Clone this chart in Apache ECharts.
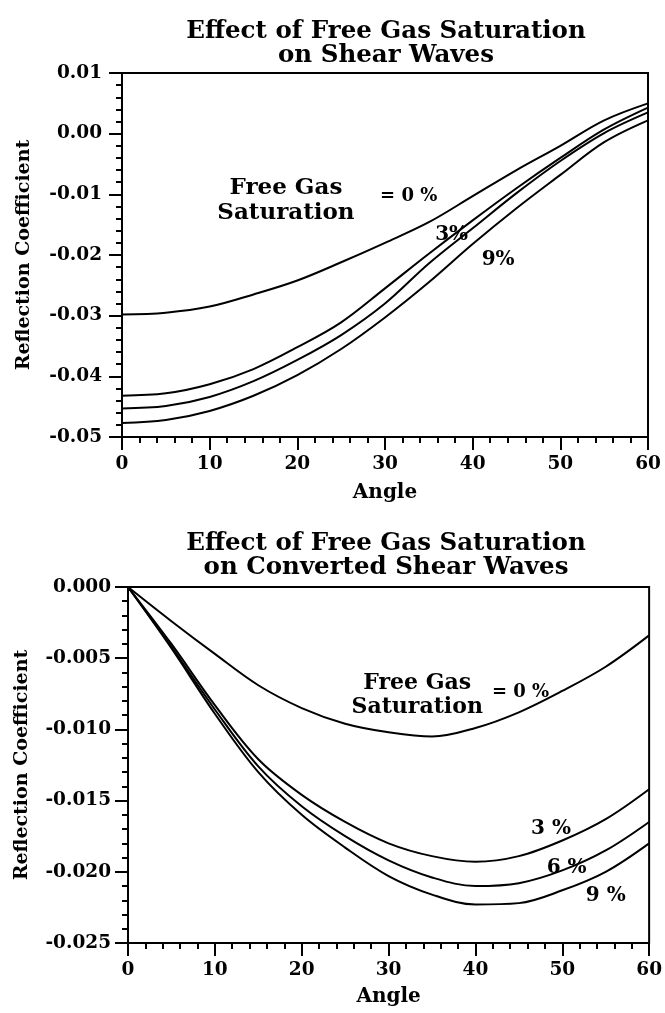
<!DOCTYPE html>
<html>
<head>
<meta charset="utf-8">
<script src="https://cdn.jsdelivr.net/npm/echarts@6/dist/echarts.min.js"></script>
<style>
html,body{margin:0;padding:0;background:#fff;}
#c{width:665px;height:1013px;}
</style>
</head>
<body>
<div id="c"></div>
<script>
// ---- data ----
const angles = [0, 5, 10, 15, 20, 25, 30, 35, 40, 45, 50, 55, 60];

// Top chart: shear waves
const shear0 = [-0.0298, -0.0295, -0.0285, -0.0265, -0.0242, -0.0212, -0.0180, -0.0146, -0.0103, -0.0060, -0.0020, 0.0022, 0.0050];
const shear3 = [-0.0432, -0.0428, -0.0413, -0.0388, -0.0352, -0.0311, -0.0255, -0.0198, -0.0143, -0.0090, -0.0040, 0.0007, 0.0043];
const shear6 = [-0.0453, -0.0449, -0.0434, -0.0408, -0.0373, -0.0332, -0.0280, -0.0214, -0.0156, -0.0098, -0.0045, 0.0001, 0.0035];
const shear9 = [-0.0477, -0.0472, -0.0457, -0.0432, -0.0398, -0.0355, -0.0303, -0.0245, -0.0182, -0.0123, -0.0068, -0.0014, 0.0022];

// Bottom chart: converted shear waves
const conv0 = [0, -0.0024, -0.0047, -0.0069, -0.0085, -0.0096, -0.0102, -0.0105, -0.0099, -0.0088, -0.0073, -0.0056, -0.0034];
const conv3 = [0, -0.0040, -0.0083, -0.0121, -0.0146, -0.0165, -0.0180, -0.0189, -0.0193, -0.0189, -0.0178, -0.0163, -0.0142];
const conv6 = [0, -0.0042, -0.0086, -0.0126, -0.0154, -0.0175, -0.0192, -0.0204, -0.0210, -0.0208, -0.0199, -0.0185, -0.0165];
const conv9 = [0, -0.0043, -0.0089, -0.0130, -0.0160, -0.0183, -0.0203, -0.0216, -0.0223, -0.0222, -0.0213, -0.0200, -0.0180];

// titles and labels
const titleTop = 'Effect of Free Gas Saturation\non Shear Waves';
const titleBottom = 'Effect of Free Gas Saturation\non Converted Shear Waves';
const xName = 'Angle';
const yName = 'Reflection Coefficient';

// annotations [angle, value, text, fontSize]
const notesTop = [
  [18.7, -0.0111, 'Free Gas\nSaturation', 23],
  [32.7, -0.0104, '= 0 %', 18],
  [37.6, -0.0167, '3%', 20],
  [42.9, -0.0208, '9%', 20]
];
const notesBottom = [
  [33.3, -0.0076, 'Free Gas\nSaturation', 22],
  [45.2, -0.0074, '= 0 %', 18],
  [48.7, -0.0170, '3 %', 20],
  [50.5, -0.0197, '6 %', 20],
  [55.0, -0.0217, '9 %', 20]
];

// ---- chart ----
const FONT = 'DejaVu Serif';
const chart = echarts.init(document.getElementById('c'));

function zip(xs, ys) { return xs.map((x, i) => [x, ys[i]]); }

function xAxisDef(gi, gap) {
  return {
    type: 'value', gridIndex: gi, min: 0, max: 60, interval: 10,
    name: xName, nameLocation: 'middle', nameGap: gap,
    nameTextStyle: {fontFamily: FONT, fontWeight: 'bold', fontSize: 20, color: '#000'},
    axisLine: {show: true, onZero: false, lineStyle: {color: '#000', width: 2}},
    axisTick: {show: true, inside: false, length: 13, lineStyle: {color: '#000', width: 2}},
    minorTick: {show: true, splitNumber: 5, length: 6, lineStyle: {color: '#000', width: 2}},
    splitLine: {show: false},
    axisLabel: {margin: 18, fontFamily: FONT, fontWeight: 'bold', fontSize: 18.5, color: '#000'}
  };
}
function yAxisDef(gi, min, max, interval, dec, gap, margin) {
  return {
    type: 'value', gridIndex: gi, min: min, max: max, interval: interval,
    name: yName, nameLocation: 'middle', nameGap: gap, nameRotate: 90,
    nameTextStyle: {fontFamily: FONT, fontWeight: 'bold', fontSize: 19, color: '#000'},
    axisLine: {show: true, onZero: false, lineStyle: {color: '#000', width: 2}},
    axisTick: {show: true, inside: false, length: 13, lineStyle: {color: '#000', width: 2}},
    minorTick: {show: true, splitNumber: 5, length: 6, lineStyle: {color: '#000', width: 2}},
    splitLine: {show: false},
    axisLabel: {margin: margin, fontFamily: FONT, fontWeight: 'bold', fontSize: 18.5, color: '#000',
      formatter: v => (Math.abs(v) < 1e-9 ? 0 : v).toFixed(dec)}
  };
}
function lineSeries(gi, ys) {
  return {
    type: 'line', xAxisIndex: gi, yAxisIndex: gi, data: zip(angles, ys),
    smooth: 0.35, symbol: 'none', silent: true,
    lineStyle: {color: '#000', width: 2}
  };
}
function noteSeries(gi, notes) {
  return {
    type: 'scatter', xAxisIndex: gi, yAxisIndex: gi, symbolSize: 0, silent: true, z: 5,
    itemStyle: {opacity: 1, color: '#000'},
    data: notes.map(n => ({
      value: [n[0], n[1]],
      label: {show: true, position: 'inside', formatter: n[2], fontSize: n[3],
        lineHeight: Math.round(n[3] * 1.1), opacity: 1,
        fontFamily: FONT, fontWeight: 'bold', color: '#000', align: 'center', verticalAlign: 'middle'}
    }))
  };
}

chart.setOption({
  backgroundColor: '#fff',
  animation: false,
  title: [
    {text: titleTop, left: 381, top: 15, textAlign: 'center',
      textStyle: {fontFamily: FONT, fontWeight: 'bold', fontSize: 24.5, lineHeight: 24, color: '#000'}},
    {text: titleBottom, left: 381, top: 527, textAlign: 'center',
      textStyle: {fontFamily: FONT, fontWeight: 'bold', fontSize: 24.5, lineHeight: 24, color: '#000'}}
  ],
  grid: [
    {left: 122, width: 526, top: 73, height: 364, show: true, borderColor: '#000', borderWidth: 2, backgroundColor: 'transparent'},
    {left: 128, width: 528, top: 587, height: 356, show: true, borderColor: '#000', borderWidth: 2, backgroundColor: 'transparent'}
  ],
  xAxis: [xAxisDef(0, 46), xAxisDef(1, 44)],
  yAxis: [
    yAxisDef(0, -0.05, 0.01, 0.01, 2, 88, 20),
    yAxisDef(1, -0.025, 0, 0.005, 3, 96, 17)
  ],
  series: [
    lineSeries(0, shear0), lineSeries(0, shear3), lineSeries(0, shear6), lineSeries(0, shear9),
    lineSeries(1, conv0), lineSeries(1, conv3), lineSeries(1, conv6), lineSeries(1, conv9),
    noteSeries(0, notesTop), noteSeries(1, notesBottom)
  ]
});
</script>
</body>
</html>
